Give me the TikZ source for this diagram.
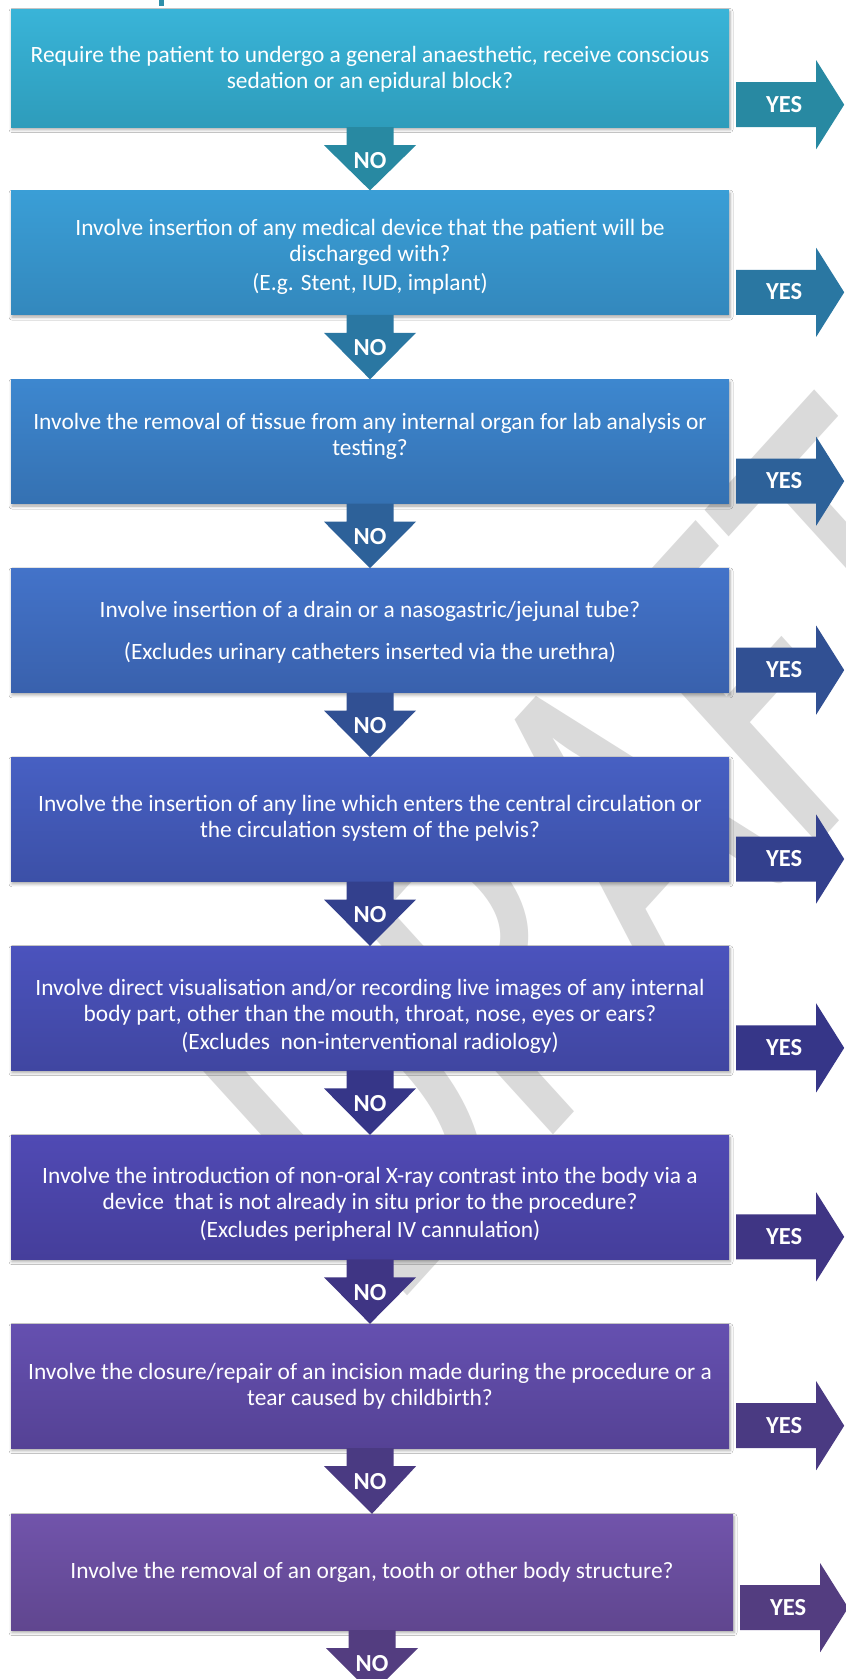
\documentclass[tikz,border=0pt]{standalone}
\usepackage{fontspec}
\setmainfont{Carlito}
\usetikzlibrary{shadows.blur}
\definecolor{ct1}{HTML}{39B4D8}\definecolor{cb1}{HTML}{2E9CBB}\definecolor{ca1}{HTML}{2889A2}
\definecolor{ct2}{HTML}{3A9ED6}\definecolor{cb2}{HTML}{3388BD}\definecolor{ca2}{HTML}{2A77A2}
\definecolor{ct3}{HTML}{3D87CF}\definecolor{cb3}{HTML}{3571B2}\definecolor{ca3}{HTML}{2D6199}
\definecolor{ct4}{HTML}{4373C9}\definecolor{cb4}{HTML}{3961AD}\definecolor{ca4}{HTML}{315093}
\definecolor{ct5}{HTML}{4760C3}\definecolor{cb5}{HTML}{3C50A7}\definecolor{ca5}{HTML}{33408D}
\definecolor{ct6}{HTML}{4B53BD}\definecolor{cb6}{HTML}{4046A1}\definecolor{ca6}{HTML}{363688}
\definecolor{ct7}{HTML}{504AB4}\definecolor{cb7}{HTML}{453E9B}\definecolor{ca7}{HTML}{3F3584}
\definecolor{ct8}{HTML}{6550B0}\definecolor{cb8}{HTML}{554295}\definecolor{ca8}{HTML}{4A3A82}
\definecolor{ct9}{HTML}{7154AB}\definecolor{cb9}{HTML}{60468F}\definecolor{ca9}{HTML}{533D80}
\definecolor{wmgray}{HTML}{DADADA}
\definecolor{frag}{HTML}{2F8FAA}
\tikzset{
  qbox/.style={inner sep=0pt, minimum width=718pt, minimum height=124pt,
    blur shadow={shadow xshift=1pt, shadow yshift=-2.5pt, shadow blur radius=3pt, shadow opacity=35}},
  qtxt/.style={text=white, align=center, inner sep=0pt, font=\fontsize{23.4}{25.7}\selectfont},
  lbl/.style={text=white, inner sep=0pt, font=\bfseries\fontsize{24.5}{24.5}\selectfont},
  wm/.style={text=wmgray, inner sep=0pt, font=\fontsize{459}{459}\selectfont}
}
\newcommand\noarrow[4]{%
  \fill[#3] ([xshift=-23.5pt]#1.south) -- ([xshift=23.5pt]#1.south)
    -- ([xshift=23.5pt,yshift=-18pt]#1.south) -- ([xshift=46pt,yshift=-18pt]#1.south)
    -- (#2) -- ([xshift=-46pt,yshift=-18pt]#1.south)
    -- ([xshift=-23.5pt,yshift=-18pt]#1.south) -- cycle;
  \node[lbl] (#4) at ([yshift=-33pt]#1.south) {NO};}
\newcommand\yesarrow[3]{%
  \fill[#2] ([xshift=7pt,yshift=45pt]#1.south east) -- ([xshift=87pt,yshift=45pt]#1.south east)
    -- ([xshift=87pt,yshift=67pt]#1.south east) -- ([xshift=115pt,yshift=22.5pt]#1.south east)
    -- ([xshift=87pt,yshift=-22pt]#1.south east) -- ([xshift=87pt]#1.south east)
    -- ([xshift=7pt]#1.south east) -- cycle;
  \node[lbl] (#3) at ([xshift=55pt,yshift=23pt]#1.south east) {YES};}
\begin{document}
\begin{tikzpicture}[x=1pt,y=-1pt]
\useasboundingbox (0,0) rectangle (846,1679);
\clip (0,0) rectangle (846,1679);
\fill[white] (0,0) rectangle (846,1679);
% watermark
\node[wm, cm={0.5148,0.5662,-0.7071,0.7778,(0,0)}] (draft) at (604.5,850) {DRAFT};
% fragment of heading above
\fill[frag] (159,0) rectangle (164,5.5);
% boxes
\node[qbox, minimum height=118pt, top color=ct1, bottom color=cb1] (box1) at (370,68) {};
\node[qbox, top color=ct2, bottom color=cb2] (box2) at (370,252.6) {};
\node[qbox, top color=ct3, bottom color=cb3] (box3) at (370,441.5) {};
\node[qbox, top color=ct4, bottom color=cb4] (box4) at (370,630.4) {};
\node[qbox, top color=ct5, bottom color=cb5] (box5) at (370,819.3) {};
\node[qbox, top color=ct6, bottom color=cb6] (box6) at (370,1008.2) {};
\node[qbox, top color=ct7, bottom color=cb7] (box7) at (370,1197.1) {};
\node[qbox, top color=ct8, bottom color=cb8] (box8) at (370,1386) {};
\node[qbox, minimum width=722pt, minimum height=116pt, top color=ct9, bottom color=cb9] (box9) at (372,1572) {};
\coordinate (end9) at (372,1694);
% texts
\node[qtxt] (q1) at (370,70.5) {\strut Require the patient to undergo a general anaesthetic, receive conscious\\ sedation or an epidural block?\strut};
\node[qtxt] (q2) at (370,257.9) {\strut Involve insertion of any medical device that the patient will be\\ discharged with?\\[3pt] (E.g. Stent, IUD, implant)\strut};
\node[qtxt] (q3) at (370,437.2) {\strut Involve the removal of tissue from any internal organ for lab analysis or\\ testing?\strut};
\node[qtxt] (q4) at (370,633.2) {\strut Involve insertion of a drain or a nasogastric/jejunal tube?\\[16pt] (Excludes urinary catheters inserted via the urethra)\strut};
\node[qtxt] (q5) at (370,819) {\strut Involve the insertion of any line which enters the central circulation or\\ the circulation system of the pelvis?\strut};
\node[qtxt] (q6) at (370,1017.5) {\strut Involve direct visualisation and/or recording live images of any internal\\ body part, other than the mouth, throat, nose, eyes or ears?\\[2pt] (Excludes\ \ non-interventional radiology)\strut};
\node[qtxt] (q7) at (370,1205.5) {\strut Involve the introduction of non-oral X-ray contrast into the body via a\\ device\ \ that is not already in situ prior to the procedure?\\[2pt] (Excludes peripheral IV cannulation)\strut};
\node[qtxt] (q8) at (370,1387) {\strut Involve the closure/repair of an incision made during the procedure or a\\ tear caused by childbirth?\strut};
\node[qtxt] (q9) at (372,1573) {\strut Involve the removal of an organ, tooth or other body structure?\strut};
% NO arrows
\noarrow{box1}{box2.north}{ca1}{no1}
\noarrow{box2}{box3.north}{ca2}{no2}
\noarrow{box3}{box4.north}{ca3}{no3}
\noarrow{box4}{box5.north}{ca4}{no4}
\noarrow{box5}{box6.north}{ca5}{no5}
\noarrow{box6}{box7.north}{ca6}{no6}
\noarrow{box7}{box8.north}{ca7}{no7}
\noarrow{box8}{box9.north}{ca8}{no8}
\noarrow{box9}{end9}{ca9}{no9}
% YES arrows
\yesarrow{box1}{ca1}{yes1}
\yesarrow{box2}{ca2}{yes2}
\yesarrow{box3}{ca3}{yes3}
\yesarrow{box4}{ca4}{yes4}
\yesarrow{box5}{ca5}{yes5}
\yesarrow{box6}{ca6}{yes6}
\yesarrow{box7}{ca7}{yes7}
\yesarrow{box8}{ca8}{yes8}
\yesarrow{box9}{ca9}{yes9}
\end{tikzpicture}
\end{document}
